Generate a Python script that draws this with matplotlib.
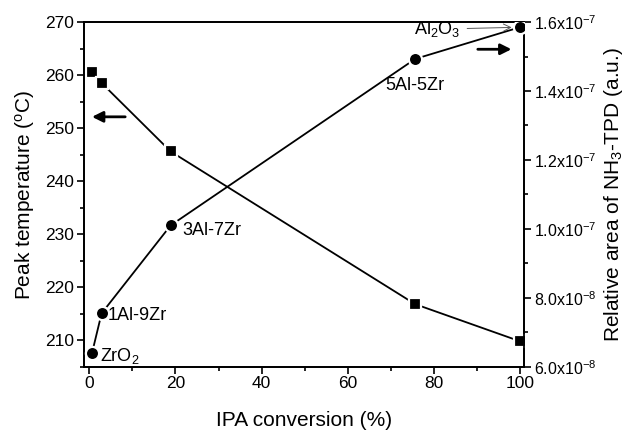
import numpy as np
import matplotlib
matplotlib.use("Agg")
import matplotlib.pyplot as plt
from matplotlib.ticker import MultipleLocator, FuncFormatter

plt.rcParams["font.family"] = ["Liberation Sans", "DejaVu Sans"]
plt.rcParams["mathtext.fontset"] = "custom"
plt.rcParams["mathtext.rm"] = "Liberation Sans"
plt.rcParams["mathtext.it"] = "Liberation Sans:italic"
plt.rcParams["mathtext.bf"] = "Liberation Sans:bold"

# IPA conversion (%) for each catalyst
ipa_conv = [0.7, 2.9, 18.9, 75.6, 99.9]
# NH3-TPD peak temperature (degC), left axis
peak_temp = [260.5, 258.5, 245.6, 216.8, 209.8]
# relative NH3-TPD area (a.u.), right axis
acid_area = [6.41e-8, 7.55e-8, 1.01e-7, 1.493e-7, 1.585e-7]
catalysts = ["ZrO$_2$", "1Al-9Zr", "3Al-7Zr", "5Al-5Zr", "Al$_2$O$_3$"]


def sci_fmt(v, pos):
    if v <= 0:
        return ""
    exp = int(np.floor(np.log10(v) + 1e-9))
    mant = v / 10 ** exp
    return r"$\mathregular{%.1fx10^{%d}}$" % (mant, exp)


fig = plt.figure(figsize=(6.31, 4.32), dpi=100)
ax = fig.add_axes([0.133, 0.151, 0.698, 0.798])
ax2 = ax.twinx()

ax.plot(ipa_conv, peak_temp, color="black", lw=1.3, marker="s",
        ms=9, mfc="black", mec="white", mew=1.6, zorder=3)
ax2.plot(ipa_conv, acid_area, color="black", lw=1.3, marker="o",
         ms=9.5, mfc="black", mec="white", mew=1.6, zorder=3)

ax.set_xlim(-1.2, 100.9)
ax.set_ylim(205, 270)
ax2.set_ylim(6.0e-8, 1.6e-7)

ax.xaxis.set_major_locator(MultipleLocator(20))
ax.xaxis.set_minor_locator(MultipleLocator(10))
ax.yaxis.set_major_locator(MultipleLocator(10))
ax.yaxis.set_minor_locator(MultipleLocator(5))
ax2.yaxis.set_major_locator(MultipleLocator(2e-8))
ax2.yaxis.set_minor_locator(MultipleLocator(1e-8))
ax2.yaxis.set_major_formatter(FuncFormatter(sci_fmt))

for a in (ax, ax2):
    a.tick_params(which="major", direction="out", length=5, width=1.2,
                  labelsize=12.5, pad=2)
    a.tick_params(which="minor", direction="out", length=3, width=1.2)
    for sp in a.spines.values():
        sp.set_linewidth(1.3)
ax.tick_params(top=False, right=False, which="both")
ax2.tick_params(left=False, which="both")
ax2.tick_params(axis="y", labelsize=11.5)

ax.set_xlabel("IPA conversion (%)", fontsize=15, labelpad=14)
ax.set_ylabel(r"Peak temperature ($\mathregular{^oC}$)", fontsize=15, labelpad=6)
ax2.set_ylabel(r"Relative area of NH$_3$-TPD (a.u.)", fontsize=15, labelpad=4)

# catalyst labels, offset from each point (pixels)
offsets = [(8, -3), (6, -2), (12, -5), (0, -27)]
aligns = ["left", "left", "left", "center"]
for i in range(4):
    ax2.annotate(catalysts[i], (ipa_conv[i], acid_area[i]),
                 xytext=offsets[i], textcoords="offset pixels",
                 ha=aligns[i], va="center", fontsize=13)
ax2.annotate(catalysts[4], (ipa_conv[4], acid_area[4]),
             xytext=(-83, -2), textcoords="offset pixels",
             ha="center", va="center", fontsize=13,
             arrowprops=dict(arrowstyle="->", color="0.35", lw=0.7,
                             shrinkA=3, shrinkB=6))

# arrows pointing to the axis each series belongs to
ax.annotate("", xy=(0.012, 0.725), xytext=(0.10, 0.725),
            xycoords="axes fraction",
            arrowprops=dict(arrowstyle="-|>", color="black", lw=2,
                            mutation_scale=16))
ax.annotate("", xy=(0.977, 0.921), xytext=(0.888, 0.921),
            xycoords="axes fraction",
            arrowprops=dict(arrowstyle="-|>", color="black", lw=2,
                            mutation_scale=16))

fig.savefig("out.png", dpi=100)
